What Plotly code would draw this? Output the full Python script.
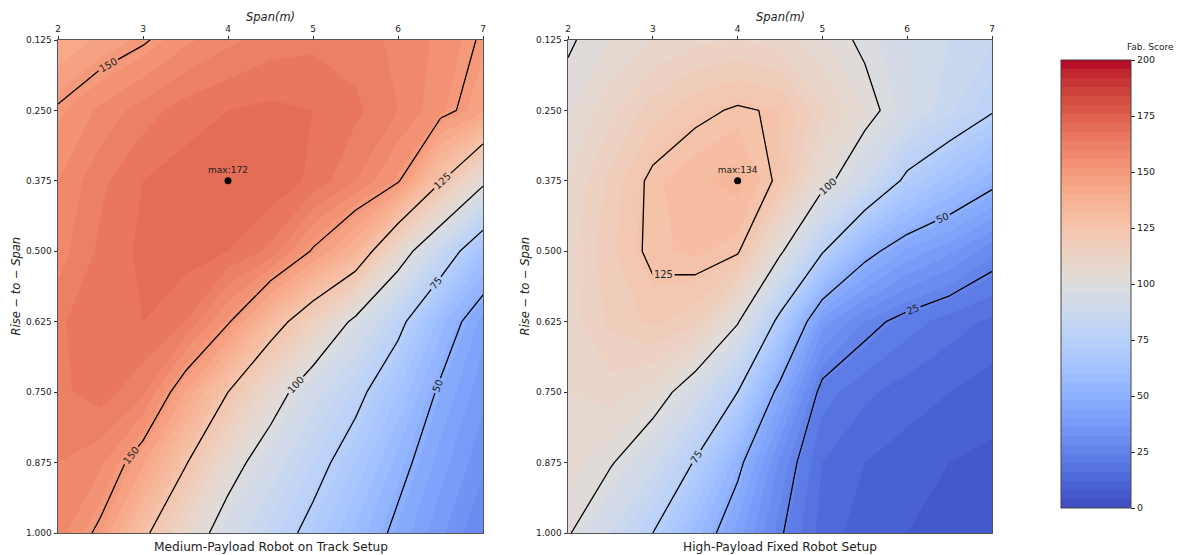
import plotly.graph_objects as go

# ---------------- data ----------------
span = [2.0, 2.5, 3.0, 3.5, 4.0, 4.5, 5.0, 5.5, 6.0, 6.5, 7.0]
rise_to_span = [0.125, 0.25, 0.375, 0.5, 0.625, 0.75, 0.875, 1.0]

# Medium-Payload Robot on Track Setup (rows follow rise_to_span)
score_medium = [
    [140, 145, 149, 155, 159, 162, 163, 162, 159, 155, 149],
    [151, 157, 162, 166, 168, 169, 168, 165, 160, 153, 145],
    [156, 163, 168, 170, 172, 171, 167, 160, 151, 126, 103],
    [158, 165, 169, 170, 168, 163, 149, 136, 108, 85, 63],
    [163, 168, 168, 164, 151, 132, 115, 97, 79, 58, 42],
    [163, 166, 161, 144, 125, 107, 91, 79, 64, 48, 37],
    [160, 157, 145, 126, 106, 92, 80, 68, 54, 42, 33],
    [158, 148, 128, 109, 93, 82, 71, 59, 47, 37, 28],
]

# High-Payload Fixed Robot Setup
score_high = [
    [99, 104, 108, 111, 112, 110, 105, 98, 92, 88, 85],
    [103, 111, 118, 123, 126, 124, 113, 104, 93, 85, 76],
    [108, 117, 127, 131, 134, 123, 104, 90, 72, 62, 53],
    [110, 119, 127, 129, 126, 102, 76, 54, 43, 37, 29],
    [110, 117, 121, 117, 101, 71, 38, 28, 22, 18, 15],
    [108, 110, 106, 93, 75, 46, 22, 17, 14, 12, 10],
    [106, 101, 90, 74, 53, 31, 16, 12, 10, 8, 7],
    [101, 88, 75, 58, 42, 26, 14, 10, 8, 6, 5],
]

panel_titles = ["Medium-Payload Robot on Track Setup", "High-Payload Fixed Robot Setup"]
max_points = [(4.0, 0.375, 172), (4.0, 0.375, 134)]
x_ticks = [2, 3, 4, 5, 6, 7]
y_ticks = [0.125, 0.25, 0.375, 0.5, 0.625, 0.75, 0.875, 1.0]
cbar_ticks = [0, 25, 50, 75, 100, 125, 150, 175, 200]

# matplotlib "coolwarm"
cw = [(59,76,192),(68,90,204),(77,104,215),(87,117,225),(98,130,234),(108,142,241),
      (119,154,247),(130,165,251),(141,176,254),(152,185,255),(163,194,255),(174,201,253),
      (184,208,249),(194,213,244),(204,217,238),(213,219,230),(221,221,221),(229,216,209),
      (236,211,197),(241,204,184),(245,196,172),(247,187,159),(247,177,147),(247,166,134),
      (244,154,123),(241,141,111),(236,127,99),(229,112,88),(222,96,77),(213,80,66),
      (203,62,56),(192,40,47),(180,4,38)]
coolwarm = [[i / (len(cw) - 1), "rgb(%d,%d,%d)" % c] for i, c in enumerate(cw)]

FONT = "DejaVu Sans"
W, H = 1187, 555
fig = go.Figure()

x_domains = [[58 / W, 483 / W], [568 / W, 992 / W]]
y_domain = [1 - 533 / H, 1 - 40 / H]
ytitle_x = [15 / W, 524 / W]

for i, z in enumerate([score_medium, score_high]):
    xa = "x" if i == 0 else "x2"
    ya = "y" if i == 0 else "y2"
    fig.add_trace(go.Contour(
        x=span, y=rise_to_span, z=z, xaxis=xa, yaxis=ya,
        colorscale=coolwarm, zmin=0, zmax=200, autocontour=False,
        contours=dict(start=0, end=200, size=4, coloring="fill", showlines=False),
        line=dict(width=0, smoothing=0),
        showscale=(i == 0),
        colorbar=dict(
            x=1061 / W, xanchor="left", xref="paper",
            y=1 - 284 / H, yanchor="middle", len=448, lenmode="pixels",
            thickness=70, thicknessmode="pixels",
            tickvals=cbar_ticks, ticks="outside", ticklen=4, tickcolor="#333",
            tickfont=dict(family=FONT, size=9.5, color="#222"),
            outlinewidth=1, outlinecolor="#444", xpad=0, ypad=0,
        ),
        hoverinfo="skip",
    ))
    fig.add_trace(go.Contour(
        x=span, y=rise_to_span, z=z, xaxis=xa, yaxis=ya,
        autocontour=False,
        contours=dict(start=25, end=175, size=25, coloring="none", showlabels=True,
                      labelfont=dict(family=FONT, size=10, color="#222")),
        line=dict(color="black", width=1.3, smoothing=0),
        showscale=False, hoverinfo="skip",
    ))
    mx, my, mv = max_points[i]
    fig.add_trace(go.Scatter(
        x=[mx], y=[my], xaxis=xa, yaxis=ya, mode="markers+text",
        marker=dict(color="black", size=7),
        text=["max:%d" % mv], textposition="top center",
        textfont=dict(family=FONT, size=9, color="#222"),
        showlegend=False, hoverinfo="skip",
    ))

axis_common = dict(
    showline=True, linecolor="#555", linewidth=1, mirror=True,
    ticks="outside", ticklen=3.5, tickcolor="#333", showgrid=False, zeroline=False,
    tickfont=dict(family=FONT, size=9, color="#222"), automargin=False,
)

for i in range(2):
    sx = "" if i == 0 else "2"
    fig.layout["xaxis" + sx] = dict(
        axis_common, domain=x_domains[i], range=[2, 7], side="top",
        tickvals=x_ticks, anchor="y" + sx,
    )
    fig.layout["yaxis" + sx] = dict(
        axis_common, domain=y_domain, range=[1.0, 0.125],
        tickvals=y_ticks, tickformat=".3f", anchor="x" + sx,
    )
    # axis titles
    fig.add_annotation(
        x=sum(x_domains[i]) / 2, y=1 - 17 / H, xref="paper", yref="paper",
        xanchor="center", yanchor="middle", showarrow=False,
        text="<i>Span(m)</i>", font=dict(family=FONT, size=11.5, color="#222"),
    )
    fig.add_annotation(
        x=ytitle_x[i], y=sum(y_domain) / 2, xref="paper", yref="paper",
        xanchor="center", yanchor="middle", showarrow=False, textangle=-90,
        text="<i>Rise − to − Span</i>", font=dict(family=FONT, size=11.5, color="#222"),
    )
    fig.add_annotation(
        x=sum(x_domains[i]) / 2, y=y_domain[0], xref="paper", yref="paper",
        xanchor="center", yanchor="top", yshift=-5, showarrow=False,
        text=panel_titles[i], font=dict(family=FONT, size=12.2, color="#222"),
    )

fig.add_annotation(
    x=1150 / W, y=1 - 47 / H, xref="paper", yref="paper",
    xanchor="center", yanchor="middle", showarrow=False,
    text="Fab. Score", font=dict(family=FONT, size=9, color="#222"),
)

fig.update_layout(
    width=W, height=H, margin=dict(l=0, r=0, t=0, b=0, autoexpand=False),
    paper_bgcolor="white", plot_bgcolor="white", showlegend=False,
    font=dict(family=FONT),
)

fig.write_html("out.html", config={"displayModeBar": False},
               post_script="document.body.style.margin='0';document.body.style.overflow='hidden';")
